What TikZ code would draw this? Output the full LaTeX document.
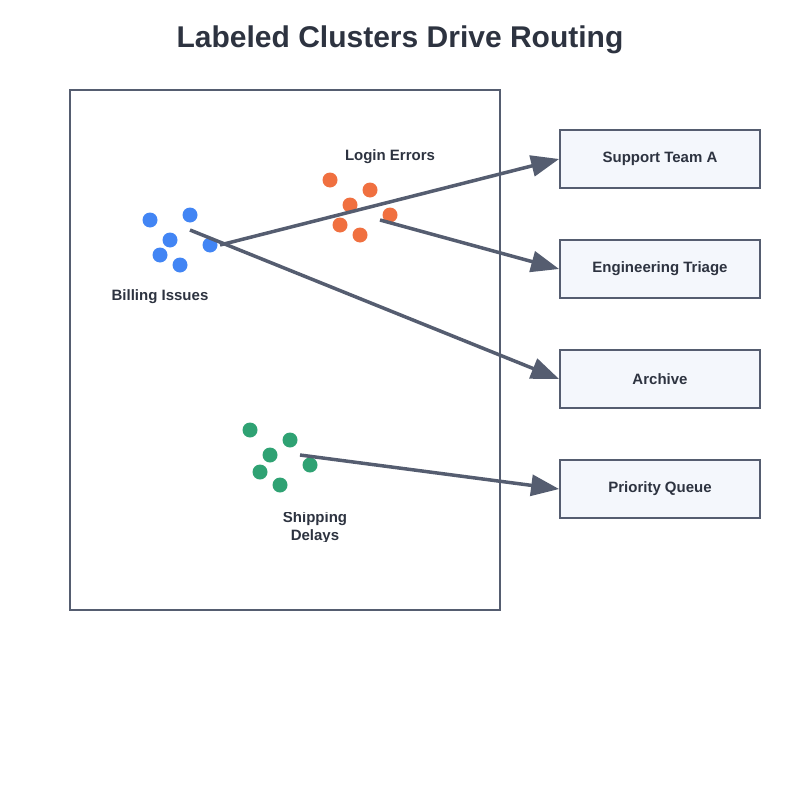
\documentclass[tikz,border=0pt]{standalone}
\usepackage{fontspec}
\setmainfont{Liberation Sans}
\usetikzlibrary{arrows.meta}
\definecolor{ink}{HTML}{555D70}
\definecolor{ttl}{HTML}{2D3340}
\definecolor{boxfill}{HTML}{F4F7FC}
\definecolor{cblue}{HTML}{4285F4}
\definecolor{corange}{HTML}{F07040}
\definecolor{cgreen}{HTML}{2FA273}
\tikzset{
  dest/.style={draw=ink,line width=1.8pt,fill=boxfill,minimum width=200pt,minimum height=58pt,inner sep=0pt,font=\bfseries\fontsize{15}{18}\selectfont,text=ttl},
  lbl/.style={font=\bfseries\fontsize{15}{18}\selectfont,text=ttl},
  route/.style={draw=ink,line width=3.5pt,-{Triangle[length=28pt,width=21pt]}},
  dot/.style={circle,inner sep=0pt,minimum size=15pt}
}
\begin{document}
\begin{tikzpicture}[x=1pt,y=-1pt]
\useasboundingbox (0,0) rectangle (800,800);
\node[font=\bfseries\fontsize{30}{36}\selectfont,text=ttl] (title) at (400,40) {Labeled Clusters Drive Routing};
\draw[ink,line width=2.5pt] (70,90) rectangle (500,610);
\foreach \x/\y [count=\i] in {150/220,190/215,170/240,160/255,180/265,210/245}
  \node[dot,fill=cblue] (b\i) at (\x,\y) {};
\foreach \x/\y [count=\i] in {330/180,370/190,350/205,390/215,340/225,360/235}
  \node[dot,fill=corange] (o\i) at (\x,\y) {};
\foreach \x/\y [count=\i] in {250/430,290/440,270/455,310/465,260/472,280/485}
  \node[dot,fill=cgreen] (g\i) at (\x,\y) {};
\node[lbl] (login) at (390,157) {Login Errors};
\node[lbl] (billing) at (160,297) {Billing Issues};
\begin{scope}
\clip (200,512) rectangle (430,541);
\node[lbl,align=center] (ship) at (315,528) {Shipping\\Delays};
\end{scope}
\node[dest] (sa) at (660,159) {Support Team A};
\node[dest] (et) at (660,269) {Engineering Triage};
\node[dest] (ar) at (660,379) {Archive};
\node[dest] (pq) at (660,489) {Priority Queue};
\coordinate (sb) at (220,245);
\coordinate (so) at (380,220);
\coordinate (sb2) at (190,230);
\coordinate (sg) at (300,455);
\draw[route] (sb) -- (sa.west);
\draw[route] (so) -- (et.west);
\draw[route] (sb2) -- (ar.west);
\draw[route] (sg) -- (pq.west);
\end{tikzpicture}
\end{document}
